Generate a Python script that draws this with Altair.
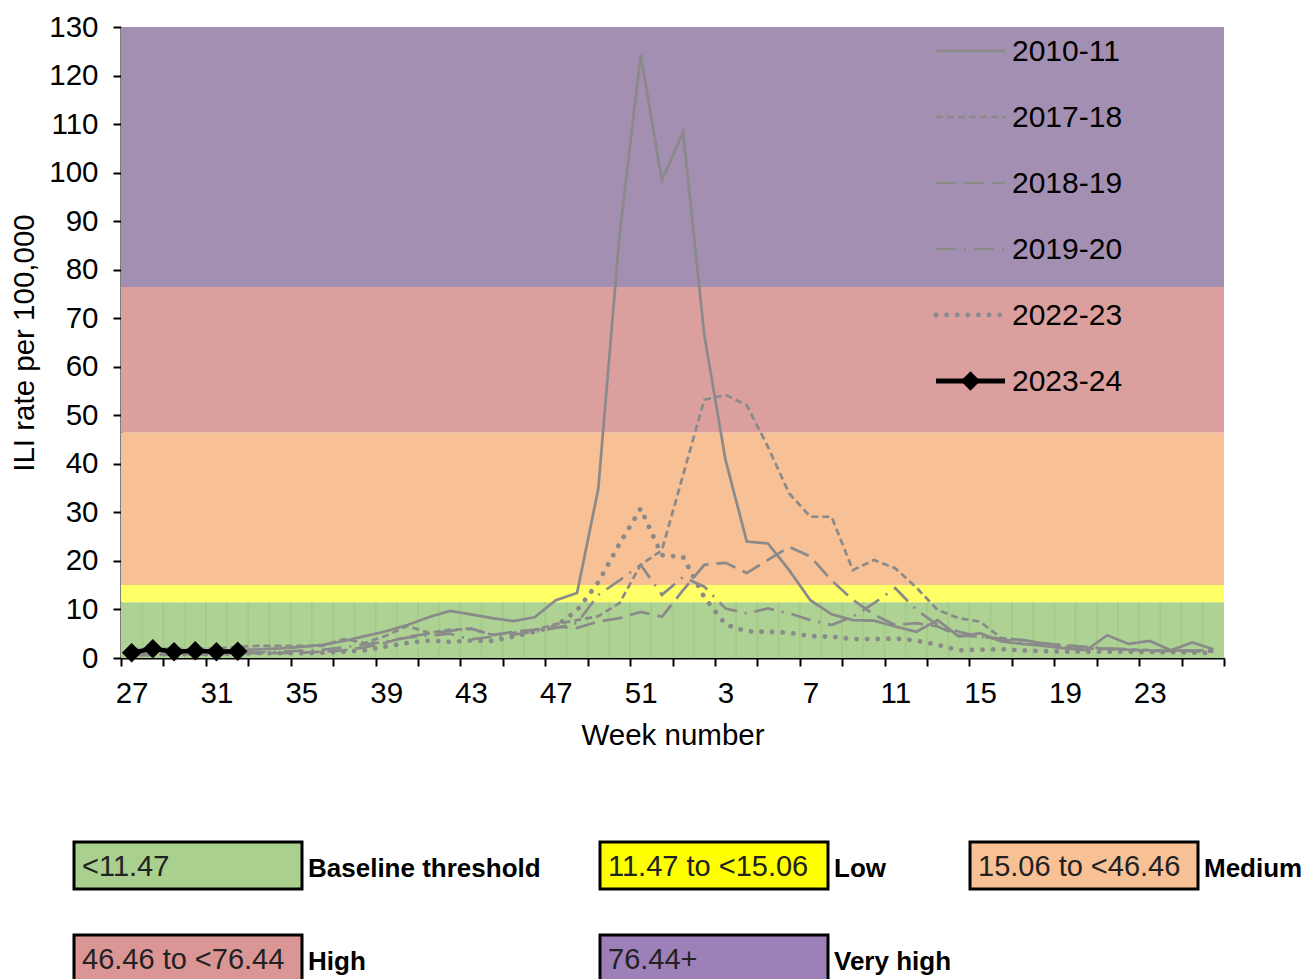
import altair as alt
import pandas as pd

# ---------------- data ----------------
weeks = list(range(27, 53)) + list(range(1, 27))
seasons = ["2010-11", "2017-18", "2018-19", "2019-20", "2022-23", "2023-24"]

s2010_11 = [1.5, 1.6, 1.5, 1.4, 1.5, 1.6, 1.8, 2.0, 2.3, 2.7, 3.5, 4.5, 5.5, 6.8, 8.4, 9.7,
            9.0, 8.2, 7.6, 8.4, 11.9, 13.4, 34.8, 87.0, 124.3, 98.4, 108.3, 66.5, 40.8, 24.0,
            23.6, 18.1, 11.9, 9.0, 7.8, 7.7, 6.5, 5.4, 7.8, 4.4, 5.1, 3.4, 2.9, 2.5, 2.0, 1.6,
            4.7, 2.9, 3.5, 1.6, 3.2, 1.8]
s2017_18 = [1.8, 2.0, 1.9, 1.8, 2.0, 2.3, 2.5, 2.5, 2.5, 2.5, 3.9, 3.1, 4.6, 6.6, 5.2, 5.8,
            6.0, 4.8, 5.2, 5.8, 7.0, 7.8, 8.6, 11.3, 19.2, 22.2, 37.7, 53.2, 54.2, 52.1, 43.5,
            33.9, 29.1, 29.1, 18.1, 20.2, 18.5, 14.5, 9.9, 8.2, 7.5, 4.1, 3.7, 3.0, 2.3, 2.0,
            1.8, 1.7, 1.6, 1.5, 1.6, 1.5]
s2018_19 = [0.6, 0.6, 0.7, 0.7, 0.8, 0.9, 1.0, 1.0, 1.1, 1.3, 1.6, 2.2, 3.2, 4.4, 5.0, 5.6,
            6.1, 4.7, 5.4, 5.8, 6.4, 6.2, 7.5, 8.2, 9.5, 8.5, 14.0, 19.2, 19.6, 17.5, 20.2,
            22.9, 20.9, 16.0, 12.0, 8.9, 6.8, 7.2, 6.5, 4.6, 4.4, 4.0, 3.7, 3.0, 2.6, 2.2, 1.9,
            1.7, 1.5, 1.4, 1.4, 1.3]
s2019_20 = [0.8, 0.8, 0.9, 1.0, 1.0, 1.1, 1.2, 1.3, 1.5, 1.7, 2.2, 2.8, 3.4, 4.2, 4.6, 5.0,
            3.8, 4.4, 4.8, 5.4, 6.2, 7.2, 13.0, 16.0, 19.2, 13.0, 16.7, 14.7, 10.2, 9.2, 10.2,
            9.2, 7.8, 6.8, 8.5, 11.3, 14.4, 9.9, 6.8, 5.4, 4.4, 3.8, 3.4, 3.0, 2.6, 2.3, 2.0,
            1.8, 1.6, 1.5, 1.5, 1.4]
s2022_23 = [0.8, 0.8, 0.8, 0.8, 0.8, 0.9, 1.0, 1.0, 1.0, 1.1, 1.3, 1.6, 2.4, 3.1, 3.6, 3.3,
            3.6, 3.5, 4.4, 5.4, 6.6, 9.8, 15.6, 23.5, 30.8, 21.2, 20.8, 12.5, 6.9, 5.5, 5.4,
            5.2, 4.5, 4.4, 3.9, 3.9, 4.0, 3.6, 2.7, 1.6, 1.7, 1.8, 1.6, 1.4, 1.3, 1.3, 1.3,
            1.3, 1.2, 1.2, 1.1, 1.0]
s2023_24 = [1.1, 1.9, 1.3, 1.5, 1.3, 1.4]

thresholds = [0, 11.47, 15.06, 46.46, 76.44, 130]
level_names = ["Baseline threshold", "Low", "Medium", "High", "Very high"]
level_ranges = ["<11.47", "11.47 to <15.06", "15.06 to <46.46", "46.46 to <76.44", "76.44+"]
band_colors = ["#AED294", "#FFFF66", "#F8C095", "#DBA09E", "#A38FB1"]
box_colors = ["#A9D08E", "#FFFF00", "#F8C095", "#DA9694", "#9E80B8"]
legend_col = [0, 1, 2, 0, 1]
legend_row = [0, 0, 0, 1, 1]
y_ticks = list(range(0, 131, 10))

# ---------------- tables ----------------
series = dict(zip(seasons, [s2010_11, s2017_18, s2018_19, s2019_20, s2022_23, s2023_24]))
rows = []
for s, vals in series.items():
    for i, v in enumerate(vals):
        rows.append({"idx": i, "week": weeks[i], "season": s, "rate": v})
df = pd.DataFrame(rows)

n = len(weeks)
x_lo, x_hi = -0.5, n - 0.5
bands = pd.DataFrame({"lo": thresholds[:-1], "hi": thresholds[1:], "color": band_colors,
                      "x0": [x_lo] * 5, "x1": [x_hi] * 5})
grid = pd.DataFrame({"gx": [i + 0.5 for i in range(n - 1)], "lo": thresholds[0],
                     "hi": thresholds[1]})
leg = pd.DataFrame({"season": seasons, "row": list(range(len(seasons)))})
boxes = pd.DataFrame({"name": level_names, "rng": level_ranges, "col": legend_col,
                      "row": legend_row, "color": box_colors})

# ---------------- style ----------------
W, H = 1103, 631
FONT = "Liberation Sans"
GREY = "#8A8A8A"
FS = 29.5
bw = W / n

weeks_js = "[" + ",".join(str(w) for w in weeks) + "]"
label_expr = (f"((datum.value + 0.5) % 4 == 0 && datum.value + 0.5 < {n}) ? "
              f"{weeks_js}[datum.value + 0.5] : ''")

xscale = alt.Scale(domain=[x_lo, x_hi], nice=False, zero=False)
yscale = alt.Scale(domain=[0, 130], nice=False, zero=False)

xaxis = alt.Axis(values=[i - 0.5 for i in range(n + 1)], labelExpr=label_expr,
                 labelOffset=bw / 2, labelFlush=False, labelOverlap=False, labelBound=False,
                 grid=False, domainColor="black", domainWidth=2, tickColor="black",
                 tickWidth=2, tickSize=8, labelFontSize=FS, labelColor="black", labelFont=FONT,
                 labelPadding=13, title="Week number", titleFontSize=FS,
                 titleFontWeight="normal", titleFont=FONT, titleColor="black", titlePadding=14)
yaxis = alt.Axis(values=y_ticks, grid=False, domainColor="black", domainWidth=2,
                 tickColor="black", tickWidth=2, tickSize=8, labelFontSize=FS,
                 labelColor="black", labelFont=FONT, labelPadding=15,
                 title="ILI rate per 100,000", titleFontSize=FS, titleFontWeight="normal",
                 titleFont=FONT, titleColor="black", titlePadding=9)

band_layer = alt.Chart(bands).mark_rect().encode(
    x=alt.X("x0:Q", scale=xscale, axis=xaxis),
    x2="x1:Q",
    y=alt.Y("lo:Q", scale=yscale, axis=yaxis),
    y2="hi:Q",
    color=alt.Color("color:N", scale=None),
)
grid_layer = alt.Chart(grid).mark_rule(color="#A4CC88", strokeWidth=2).encode(
    x="gx:Q", y="lo:Q", y2="hi:Q")

dash_styles = {
    "2010-11": dict(strokeWidth=2.7),
    "2017-18": dict(strokeWidth=2.7, strokeDash=[7, 4]),
    "2018-19": dict(strokeWidth=2.7, strokeDash=[20, 8]),
    "2019-20": dict(strokeWidth=2.7, strokeDash=[20, 8, 2, 8]),
    "2022-23": dict(strokeWidth=4.8, strokeDash=[0.1, 10.5], strokeCap="round"),
}

line_layers = []
for s in seasons[:-1]:
    line_layers.append(
        alt.Chart(df[df.season == s]).mark_line(color=GREY, **dash_styles[s]).encode(
            x="idx:Q", y="rate:Q", order="idx:Q"))

cur = df[df.season == seasons[-1]]
cur_line = alt.Chart(cur).mark_line(color="black", strokeWidth=4.5).encode(
    x="idx:Q", y="rate:Q")
cur_pts = alt.Chart(cur).mark_point(shape="diamond", filled=True, size=380, color="black",
                                    opacity=1).encode(x="idx:Q", y="rate:Q")

main = alt.layer(band_layer, grid_layer, *line_layers, cur_line, cur_pts)

# ---- series legend (top right) ----
lx = alt.Scale(domain=[0, 1], range=[815, 884])
ly = alt.Scale(domain=[0, len(seasons) - 1], range=[24, 354])
leg_layers = []
for s in seasons[:-1]:
    leg_layers.append(
        alt.Chart(leg[leg.season == s]).mark_rule(color=GREY, **dash_styles[s]).encode(
            x=alt.X(datum=0, type="quantitative", scale=lx, axis=None),
            x2=alt.X2(datum=1),
            y=alt.Y("row:Q", scale=ly, axis=None)))
cur_leg = leg[leg.season == seasons[-1]]
leg_layers.append(alt.Chart(cur_leg).mark_rule(color="black", strokeWidth=5).encode(
    x=alt.X(datum=0, type="quantitative"), x2=alt.X2(datum=1), y="row:Q"))
leg_layers.append(alt.Chart(cur_leg).mark_point(shape="diamond", filled=True, size=380,
                                                color="black", opacity=1).encode(
    x=alt.X(datum=0.5, type="quantitative"), y="row:Q"))
leg_layers.append(alt.Chart(leg).mark_text(align="left", baseline="middle", dx=7, dy=1,
                                           fontSize=30, font=FONT, color="black").encode(
    x=alt.X(datum=1, type="quantitative"), y="row:Q", text="season:N"))
series_legend = alt.layer(*leg_layers)

# ---- threshold legend (bottom) ----
bx = alt.Scale(domain=[0, 1, 2], range=[67, 593, 963])
by = alt.Scale(domain=[0, 1], range=[838.5, 931.5])
box_rect = alt.Chart(boxes).mark_rect(width=228, height=47, stroke="black",
                                      strokeWidth=3).encode(
    x=alt.X("col:Q", scale=bx, axis=None),
    y=alt.Y("row:Q", scale=by, axis=None),
    color=alt.Color("color:N", scale=None))
box_txt = alt.Chart(boxes).mark_text(align="left", baseline="middle", dx=-106, dy=1,
                                     fontSize=29, font=FONT, color="#222222").encode(
    x="col:Q", y="row:Q", text="rng:N")
box_lab = alt.Chart(boxes).mark_text(align="left", baseline="middle", dx=120, dy=3,
                                     fontSize=26, fontWeight="bold", font=FONT,
                                     color="black").encode(
    x="col:Q", y="row:Q", text="name:N")
level_legend = alt.layer(box_rect, box_txt, box_lab)

chart = alt.layer(main, series_legend, level_legend).resolve_scale(
    x="independent", y="independent"
).properties(
    width=W, height=H,
    autosize=alt.AutoSizeParams(type="none"),
    padding={"left": 113, "top": 19, "right": 80, "bottom": 330},
    background="white",
).configure_view(stroke=None)

chart.save("out.html", embed_options={"renderer": "svg", "actions": False})
